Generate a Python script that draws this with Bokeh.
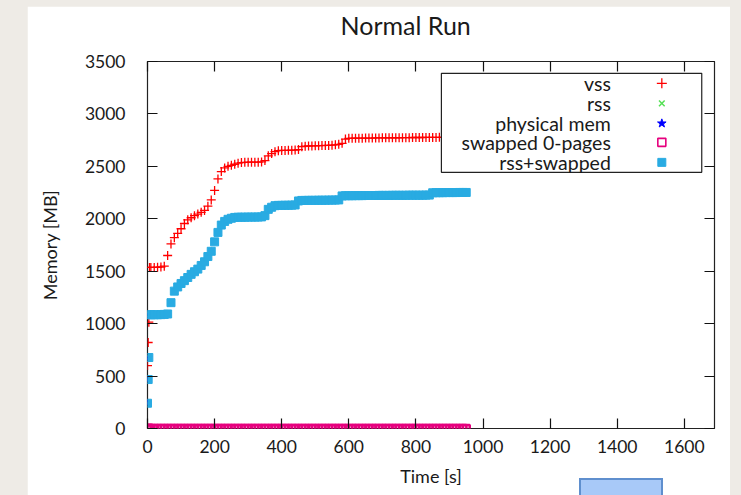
from bokeh.plotting import figure
from bokeh.models import Range1d, LinearAxis, FixedTicker, BoxAnnotation, Label, ColumnDataSource
from bokeh.embed import file_html
from bokeh.resources import INLINE

# ---------------- data ----------------
chart_title = "Normal Run"

time_s = [0, 2, 4, 6,
          10, 20, 30, 40, 50, 60, 70, 80, 90, 100,
          110, 120, 130, 140, 150, 160, 170, 180, 190, 200,
          210, 220, 230, 240, 250, 260, 270, 280, 290, 300,
          310, 320, 330, 340, 350, 360, 370, 380, 390, 400,
          410, 420, 430, 440, 450, 460, 470, 480, 490, 500,
          510, 520, 530, 540, 550, 560, 570, 580, 590, 600,
          610, 620, 630, 640, 650, 660, 670, 680, 690, 700,
          710, 720, 730, 740, 750, 760, 770, 780, 790, 800,
          810, 820, 830, 840, 850, 860, 870, 880, 890, 900,
          910, 920, 930, 940, 950]

vss_mb = [600, 820, 1014, 1536,
          1536, 1536, 1538, 1540, 1548, 1650, 1760, 1820, 1860, 1905,
          1955, 1990, 2010, 2030, 2045, 2062, 2080, 2120, 2180, 2270,
          2380, 2450, 2485, 2500, 2510, 2520, 2530, 2536, 2538, 2540,
          2540, 2540, 2540, 2542, 2555, 2600, 2622, 2640, 2650, 2652,
          2652, 2653, 2654, 2655, 2660, 2688, 2692, 2694, 2695, 2696,
          2697, 2698, 2700, 2700, 2702, 2705, 2710, 2720, 2760, 2767,
          2768, 2768, 2769, 2769, 2770, 2770, 2770, 2771, 2771, 2772,
          2772, 2772, 2773, 2773, 2773, 2774, 2774, 2774, 2775, 2775,
          2775, 2775, 2776, 2776, 2776, 2776, 2777, 2777, 2777, 2777,
          2778, 2778, 2778, 2779, 2779]

rss_swapped_mb = [241, 467, 677, 1085,
                  1085, 1085, 1085, 1086, 1088, 1092, 1200, 1310, 1350, 1383,
                  1410, 1440, 1470, 1495, 1520, 1555, 1590, 1640, 1690, 1780,
                  1870, 1940, 1975, 1995, 2005, 2013, 2015, 2015, 2015, 2016,
                  2016, 2016, 2017, 2018, 2030, 2090, 2110, 2125, 2128, 2128,
                  2129, 2129, 2130, 2132, 2170, 2175, 2175, 2176, 2176, 2176,
                  2177, 2177, 2177, 2178, 2178, 2179, 2180, 2218, 2220, 2220,
                  2220, 2221, 2221, 2221, 2222, 2222, 2222, 2222, 2223, 2223,
                  2223, 2223, 2224, 2224, 2224, 2224, 2224, 2225, 2225, 2225,
                  2225, 2225, 2226, 2226, 2248, 2249, 2249, 2249, 2250, 2250,
                  2250, 2250, 2251, 2251, 2251]

# rss and physical mem lie hidden under rss+swapped (no swap used)
rss_mb = list(rss_swapped_mb)
physical_mb = list(rss_swapped_mb)

swapped_zero_mb = [0, 0, 0, 0,
                   0, 0, 0, 0, 0, 0, 0, 0, 0, 0,
                   0, 0, 0, 0, 0, 0, 0, 0, 0, 0,
                   0, 0, 0, 0, 0, 0, 0, 0, 0, 0,
                   0, 0, 0, 0, 0, 0, 0, 0, 0, 0,
                   0, 0, 0, 0, 0, 0, 0, 0, 0, 0,
                   0, 0, 0, 0, 0, 0, 0, 0, 0, 0,
                   0, 0, 0, 0, 0, 0, 0, 0, 0, 0,
                   0, 0, 0, 0, 0, 0, 0, 0, 0, 0,
                   0, 0, 0, 0, 0, 0, 0, 0, 0, 0,
                   0, 0, 0, 0, 0]

series_names = ["vss", "rss", "physical mem", "swapped 0-pages", "rss+swapped"]
x_ticks = [0, 200, 400, 600, 800, 1000, 1200, 1400, 1600]
y_ticks = [0, 500, 1000, 1500, 2000, 2500, 3000, 3500]

# ---------------- styling ----------------
FONT = "Lato"
RED = "#ff0000"
GREEN = "#55e055"
BLUE = "#0000ff"
PINK = "#e6007e"
CYAN = "#29abe2"
INK = "#1a1a1a"

src = ColumnDataSource(dict(t=time_s, vss=vss_mb, rss=rss_mb, phys=physical_mb,
                            zero=swapped_zero_mb, rs=rss_swapped_mb))

p = figure(width=703, height=489, output_backend="svg", toolbar_location=None,
           x_range=Range1d(0, 1690), y_range=Range1d(0, 3500),
           min_border_left=120, min_border_right=16, min_border_top=55, min_border_bottom=67,
           background_fill_color="white", border_fill_color="white")

p.title.text = chart_title
p.title.text_font = FONT
p.title.text_font_size = "25px"
p.title.text_font_style = "normal"
p.title.text_color = INK
p.title.align = "left"
p.title.offset = 193
p.title.standoff = 0

p.grid.visible = False
p.outline_line_color = "#222222"
p.outline_line_width = 1.2

xa = p.xaxis[0]
ya = p.yaxis[0]
xa.ticker = FixedTicker(ticks=x_ticks)
ya.ticker = FixedTicker(ticks=y_ticks)
for ax in (xa, ya):
    ax.axis_line_color = None
    ax.major_tick_in = 10
    ax.major_tick_out = 0
    ax.minor_tick_line_color = None
    ax.major_tick_line_color = "#111111"
    ax.major_tick_line_width = 1.2
    ax.major_label_text_font = FONT
    ax.major_label_text_font_size = "17.5px"
    ax.major_label_text_color = INK
    ax.axis_label_text_font = FONT
    ax.axis_label_text_font_size = "18px"
    ax.axis_label_text_font_style = "normal"
    ax.axis_label_text_color = INK
xa.axis_label = "Time [s]"
ya.axis_label = "Memory [MB]"
xa.major_label_standoff = 11
xa.axis_label_standoff = 9
ya.major_label_standoff = 22
ya.axis_label_standoff = 21

# mirrored inward ticks on the top and right borders (labels not painted);
# a blank label on the top one leaves gnuplot's gap between title and frame
top = LinearAxis(ticker=FixedTicker(ticks=x_ticks), major_label_text_font_size="1px",
                 major_label_text_color=None, major_label_text_alpha=0,
                 axis_line_color=None, major_tick_in=10, major_tick_out=0,
                 minor_tick_line_color=None, major_tick_line_color="#111111",
                 major_tick_line_width=1.2, major_label_standoff=0,
                 axis_label=" ", axis_label_text_font=FONT,
                 axis_label_text_font_size="14px", axis_label_standoff=2,
                 axis_label_text_color="white")
right = LinearAxis(ticker=FixedTicker(ticks=y_ticks), major_label_text_font_size="1px",
                   major_label_text_color=None, major_label_text_alpha=0,
                   axis_line_color=None, major_tick_in=10, major_tick_out=0,
                   minor_tick_line_color=None, major_tick_line_color="#111111",
                   major_tick_line_width=1.2, major_label_standoff=0)
p.add_layout(top, "above")
p.add_layout(right, "right")

# ---------------- series ----------------
p.scatter("t", "vss", source=src, marker="cross", size=9, line_color=RED, line_width=1.3)
p.scatter("t", "rss", source=src, marker="x", size=7, line_color=GREEN, line_width=1.3)
p.scatter("t", "phys", source=src, marker="star", size=7, fill_color=BLUE, line_color=BLUE)
p.scatter("t", "zero", source=src, marker="square", size=7, fill_color=None,
          line_color=PINK, line_width=2.6)
p.scatter("t", "rs", source=src, marker="square", size=8, fill_color=CYAN, line_color=CYAN)

# ---------------- key (label on the left, symbol on the right, like gnuplot) ----------------
key_left, key_right, key_top, key_bottom = 876, 1652, 3387, 2443
key_text_x, key_sym_x = 1381, 1533
key_rows = [3292, 3101, 2910, 2729, 2538]

p.add_layout(BoxAnnotation(left=key_left, right=key_right, top=key_top, bottom=key_bottom,
                           fill_color="white", fill_alpha=1.0, line_color="#222222",
                           line_width=1.2, line_alpha=1.0, level="annotation"))
for name, yy in zip(series_names, key_rows):
    p.add_layout(Label(x=key_text_x, y=yy, text=name, text_align="right",
                       text_baseline="middle", text_font=FONT, text_font_size="19.5px",
                       text_color=INK, level="overlay"))

p.scatter([key_sym_x], [key_rows[0]], marker="cross", size=10, line_color=RED,
          line_width=1.3, level="overlay")
p.scatter([key_sym_x], [key_rows[1]], marker="x", size=8, line_color=GREEN,
          line_width=1.5, level="overlay")
p.scatter([key_sym_x], [key_rows[2]], marker="star", size=9, fill_color=BLUE,
          line_color=BLUE, level="overlay")
p.scatter([key_sym_x], [key_rows[3]], marker="square", size=8, fill_color=None,
          line_color=PINK, line_width=1.6, level="overlay")
p.scatter([key_sym_x], [key_rows[4]], marker="square", size=8, fill_color=CYAN,
          line_color=CYAN, level="overlay")

html = file_html(p, INLINE, title=chart_title)
css = ("<style>html,body{overflow:hidden;background:#eeebe6;}"
       "body{margin:6px 0 0 27px;}</style>")
html = html.replace("</head>", css + "</head>", 1)
html = html.replace("</body>",
                    '<div style="position:absolute;left:579px;top:478px;width:80px;height:30px;'
                    'background:#a8c9f8;border:2px solid #5f8fce;"></div></body>', 1)
open("out.html", "w").write(html)
